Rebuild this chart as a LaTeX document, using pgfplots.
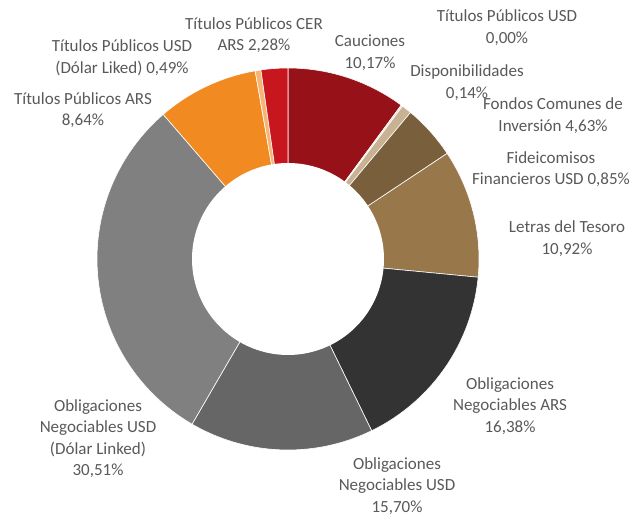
\documentclass[border=0pt]{standalone}
\usepackage{pgfplots}
\usepackage{pgfplotstable}
\usepackage{fontspec}
\setmainfont{Carlito}
\pgfplotsset{compat=1.18}

% slice colours, clockwise from 12 o'clock
\definecolor{c0}{HTML}{961218}  % Cauciones
\definecolor{c1}{HTML}{E6D9C6}  % Disponibilidades
\definecolor{c2}{HTML}{C9B193}  % Fideicomisos
\definecolor{c3}{HTML}{7A5F3C}  % FCI
\definecolor{c4}{HTML}{98784B}  % Letras
\definecolor{c5}{HTML}{333333}  % ON ARS
\definecolor{c6}{HTML}{666666}  % ON USD
\definecolor{c7}{HTML}{7F807F}  % ON USD DL
\definecolor{c8}{HTML}{F28A22}  % TP ARS
\definecolor{c9}{HTML}{F7B574}  % TP USD DL
\definecolor{c10}{HTML}{C8161E} % TP CER
\definecolor{c11}{HTML}{B0B0B0} % TP USD
\definecolor{lbl}{HTML}{595959}

\pgfplotstableread{
value
10.17
0.14
0.85
4.63
10.92
16.38
15.70
30.51
8.64
0.49
2.28
0.00
}\slices

\pgfmathsetmacro\total{0}
\pgfplotsforeachungrouped \i in {0,...,11}{%
  \pgfplotstablegetelem{\i}{value}\of\slices
  \pgfmathsetmacro\total{\total+\pgfplotsretval}}

\begin{document}
\begin{tikzpicture}[every node/.style={font=\fontsize{17}{21.5}\selectfont, text=lbl, align=center, inner sep=0pt}]
  \begin{axis}[
    width=640pt, height=516pt,
    scale only axis,
    xmin=0, xmax=640, ymin=0, ymax=516,
    hide axis,
  ]
    % keep the full canvas as bounding box
    \path (rel axis cs:0,0) rectangle (rel axis cs:1,1);
    \pgfmathsetmacro\cum{0}
    \pgfplotsforeachungrouped \i in {0,...,11}{%
      \pgfplotstablegetelem{\i}{value}\of\slices
      \let\v\pgfplotsretval
      \pgfmathsetmacro\a{90-(\cum/\total)*360}
      \pgfmathsetmacro\cum{\cum+\v}
      \pgfmathsetmacro\b{90-(\cum/\total)*360}
      \ifdim\v pt>0pt
        \edef\cmd{\noexpand\addplot[fill=c\i, draw=white, line width=0.6pt,
          domain=\b:\a, samples=80]
          ({288+191*cos(x)},{257+191*sin(x)}) -- (axis cs:288,257) -- cycle;}
        \cmd
      \fi
    }
    % donut hole
    \addplot[fill=white, draw=none, domain=0:360, samples=150]
      ({288+96*cos(x)},{257+96*sin(x)}) -- cycle;

    \node at (axis cs:507,488.5) {Títulos Públicos USD\\0,00\%};
    \node at (axis cs:254,481) {Títulos Públicos CER\\ARS 2,28\%};
    \node at (axis cs:370,463.5) {Cauciones\\10,17\%};
    \node at (axis cs:467,433.5) {Disponibilidades\\0,14\%};
    \node at (axis cs:553,400.5) {Fondos Comunes de\\Inversión 4,63\%};
    \node at (axis cs:551,347) {Fideicomisos\\Financieros USD 0,85\%};
    \node at (axis cs:567,277.5) {Letras del Tesoro\\10,92\%};
    \node at (axis cs:510,110) {Obligaciones\\Negociables ARS\\16,38\%};
    \node at (axis cs:397,30) {Obligaciones\\Negociables USD\\15,70\%};
    \node at (axis cs:98,77.5) {Obligaciones\\Negociables USD\\(Dólar Linked)\\30,51\%};
    \node at (axis cs:83,406) {Títulos Públicos ARS\\8,64\%};
    \node at (axis cs:122,458) {Títulos Públicos USD\\(Dólar Liked) 0,49\%};
  \end{axis}
\end{tikzpicture}
\end{document}
